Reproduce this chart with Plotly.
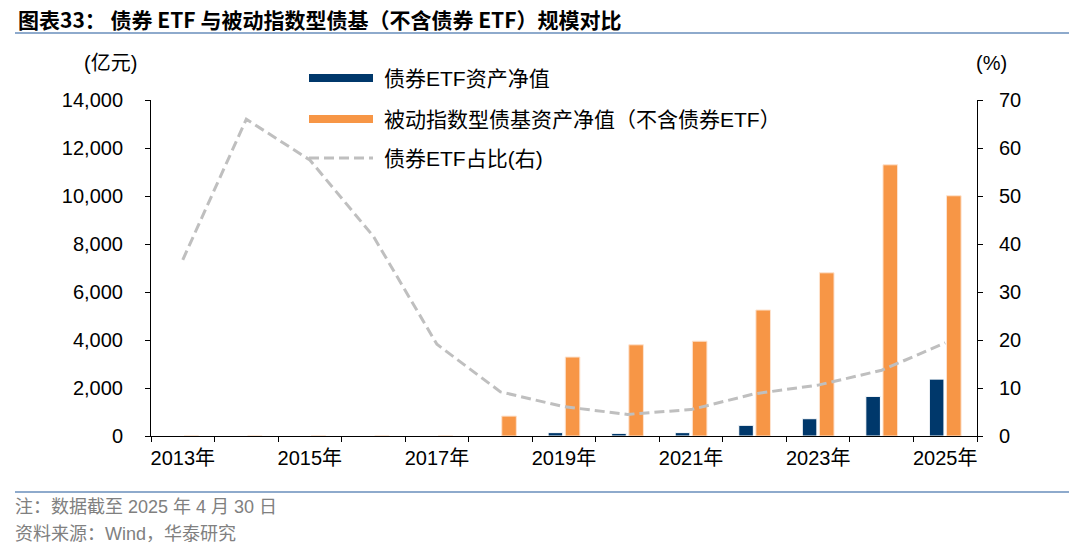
import plotly.graph_objects as go

years = ["2013年", "2014年", "2015年", "2016年", "2017年", "2018年", "2019年",
         "2020年", "2021年", "2022年", "2023年", "2024年", "2025年"]
tick_text = ["2013年", "", "2015年", "", "2017年", "", "2019年", "", "2021年", "",
             "2023年", "", "2025年"]
etf_nav = [0, 0, 0, 0, 0, 0, 140, 110, 140, 445, 720, 1650, 2370]
passive_nav = [0, 0, 0, 0, 0, 830, 3290, 3800, 3950, 5250, 6800, 11300, 10010]
etf_share = [36.7, 66.0, 57.5, 41.6, 19.1, 9.2, 6.1, 4.5, 5.5, 8.8, 10.6, 13.7, 19.4]

name_etf = "债券ETF资产净值"
name_passive = "被动指数型债基资产净值（不含债券ETF）"
name_share = "债券ETF占比(右)"

FONT = "Liberation Sans, Arial, Noto Sans CJK SC, sans-serif"
BLUE = "#00386B"
ORANGE = "#F79646"
GRAY = "#BFBFBF"

# plot area in pixels
L, R, T, B = 151, 977, 100, 436
W = R - L
H = B - T


def px(x):
    return (x - L) / W


def py(y):
    return (B - y) / H


fig = go.Figure()
fig.add_trace(go.Bar(x=years, y=etf_nav, name=name_etf,
                     marker=dict(color=BLUE, line=dict(color="#FFFFFF", width=1)), showlegend=False))
fig.add_trace(go.Bar(x=years, y=passive_nav, name=name_passive,
                     marker=dict(color=ORANGE, line=dict(color="#FDE3CF", width=1)), showlegend=False))
fig.add_trace(go.Scatter(x=years, y=etf_share, name=name_share, yaxis="y2", mode="lines",
                         line=dict(color=GRAY, width=3, dash="10px,5px"), showlegend=False))

fig.update_layout(
    width=1080, height=551,
    margin=dict(l=L, r=1080 - R, t=T, b=551 - B, autoexpand=False),
    paper_bgcolor="white", plot_bgcolor="white",
    font=dict(family=FONT, size=20, color="black"),
    barmode="group", bargap=0.46, bargroupgap=0.15,
    xaxis=dict(type="category", tickmode="array", tickvals=years, ticktext=tick_text,
               tickson="boundaries", ticks="outside", ticklen=5, tickcolor="black", tickangle=0,
               showline=True, linecolor="black", linewidth=1, showgrid=False,
               tickfont=dict(size=20, family=FONT), ticklabelstandoff=4),
    yaxis=dict(range=[0, 14000], tickmode="array",
               tickvals=[0, 2000, 4000, 6000, 8000, 10000, 12000, 14000],
               ticktext=["0", "2,000", "4,000", "6,000", "8,000", "10,000", "12,000", "14,000"],
               ticks="outside", ticklen=5, tickcolor="black", showline=True, linecolor="black",
               showgrid=False, zeroline=False, tickfont=dict(size=20, family=FONT),
               ticklabelstandoff=18),
    yaxis2=dict(range=[0, 70], dtick=10, overlaying="y", side="right", ticks="outside", ticklen=5,
                tickcolor="black", showline=True, linecolor="black", showgrid=False, zeroline=False,
                tickfont=dict(size=20, family=FONT), ticklabelstandoff=12),
)

# Title and separator lines
fig.add_annotation(text="<b>图表33： 债券 ETF 与被动指数型债基（不含债券 ETF）规模对比</b>",
                   xref="paper", yref="paper", x=px(16), y=py(19),
                   xanchor="left", yanchor="middle", showarrow=False,
                   font=dict(family="Noto Sans CJK SC, sans-serif", size=21, color="black"))
for yy in [33, 492]:
    fig.add_shape(type="line", xref="paper", yref="paper", x0=px(15), x1=px(1069),
                  y0=py(yy), y1=py(yy), line=dict(color="#8EAACC", width=2))

# Axis units
fig.add_annotation(text="(亿元)", xref="paper", yref="paper", x=px(110), y=py(63),
                   xanchor="center", yanchor="middle", showarrow=False, font=dict(size=20))
fig.add_annotation(text="(%)", xref="paper", yref="paper", x=px(991), y=py(63),
                   xanchor="center", yanchor="middle", showarrow=False, font=dict(size=20))

# Custom legend
leg = [(78, name_etf, BLUE, "bar"), (119, name_passive, ORANGE, "bar"), (158, name_share, GRAY, "line")]
for yy, txt, col, kind in leg:
    if kind == "bar":
        fig.add_shape(type="rect", xref="paper", yref="paper", x0=px(309), x1=px(373),
                      y0=py(yy + 4), y1=py(yy - 4), fillcolor=col, line=dict(width=0))
    else:
        fig.add_shape(type="line", xref="paper", yref="paper", x0=px(309), x1=px(373),
                      y0=py(yy), y1=py(yy), line=dict(color=col, width=3, dash="10px,5px"))
    fig.add_annotation(text=txt, xref="paper", yref="paper", x=px(382), y=py(yy),
                       xanchor="left", yanchor="middle", showarrow=False, font=dict(size=21))

# Notes
fig.add_annotation(text="注：数据截至 2025 年 4 月 30 日", xref="paper", yref="paper",
                   x=px(13), y=py(507), xanchor="left", yanchor="middle",
                   showarrow=False, font=dict(size=18, color="#808080"))
fig.add_annotation(text="资料来源：Wind，华泰研究", xref="paper", yref="paper",
                   x=px(13), y=py(534), xanchor="left", yanchor="middle",
                   showarrow=False, font=dict(size=18, color="#808080"))

fig.write_html("out.html", config={"displayModeBar": False},
               post_script="document.body.style.margin='0';document.body.style.overflow='hidden';")
